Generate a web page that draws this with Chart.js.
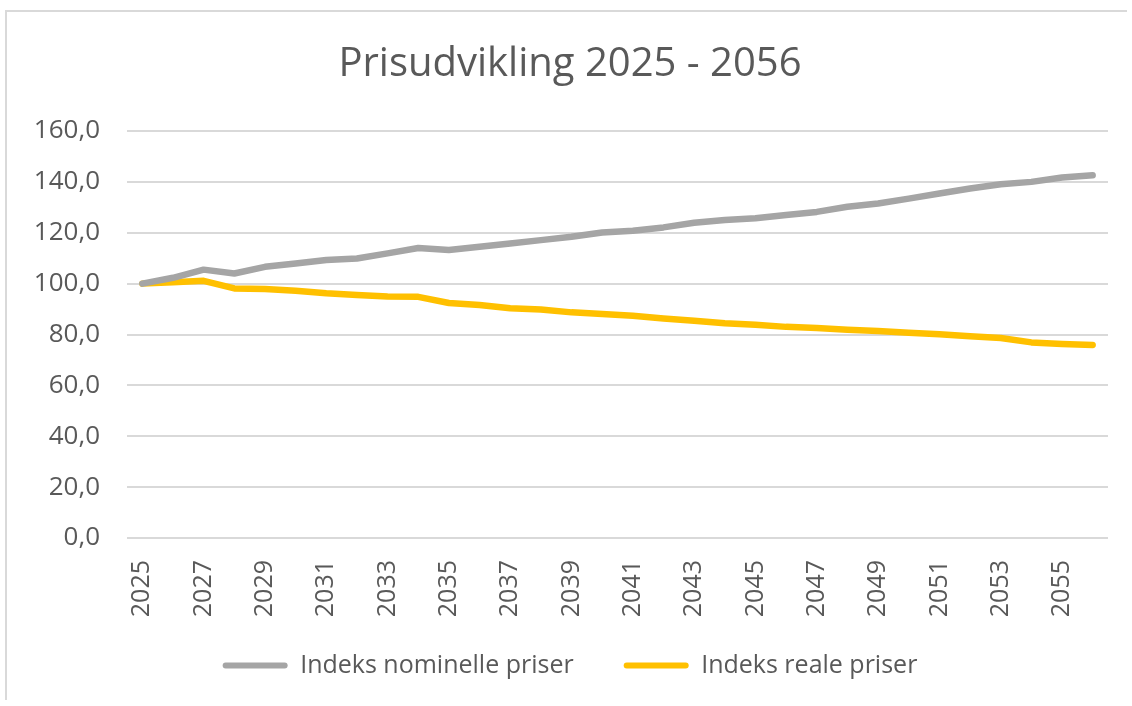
<!DOCTYPE html>
<html>
<head>
<meta charset="utf-8">
<script src="https://cdn.jsdelivr.net/npm/chart.js@4.4.1/dist/chart.umd.min.js"></script>
<style>
    body { margin: 0; background: #fff; }
    #frame {
        position: absolute; left: 5px; top: 10px;
        width: 1122px; height: 690px;
        border: 2px solid #d9d9d9; border-right: none; border-bottom: none;
        box-sizing: border-box;
    }
    #chart { position: absolute; left: 0; top: 0; }
</style>
</head>
<body>
<div id="frame"></div>
<canvas id="chart" width="1132" height="706"></canvas>
<script>
const years = [2025, 2026, 2027, 2028, 2029, 2030, 2031, 2032, 2033, 2034, 2035, 2036, 2037, 2038, 2039, 2040,
    2041, 2042, 2043, 2044, 2045, 2046, 2047, 2048, 2049, 2050, 2051, 2052, 2053, 2054, 2055, 2056];

const nominal = [100.0, 102.3, 105.5, 104.0, 106.6, 107.9, 109.3, 109.9, 111.9, 114.0, 113.2, 114.5, 115.8, 117.1, 118.4, 120.1,
    120.8, 122.1, 123.9, 125.0, 125.7, 127.0, 128.2, 130.2, 131.5, 133.4, 135.4, 137.4, 139.1, 140.0, 141.7, 142.6];

const real = [100.0, 100.5, 101.1, 98.1, 97.9, 97.2, 96.2, 95.5, 94.9, 94.8, 92.4, 91.6, 90.3, 89.8, 88.7, 88.1,
    87.4, 86.3, 85.4, 84.4, 83.8, 83.0, 82.6, 81.9, 81.4, 80.7, 80.1, 79.3, 78.6, 76.9, 76.3, 75.9];

const seriesNames = ['Indeks nominelle priser', 'Indeks reale priser'];
const yTicks = [0, 20, 40, 60, 80, 100, 120, 140, 160];

const textColor = '#595959';
const fontFamily = "'Open Sans', sans-serif";

// legend padding is big to space the two items apart; pull it back up a bit
const legendNudge = {
    id: 'legendNudge',
    afterLayout(chart) {
        chart.legend.top -= 15;
        chart.legend.bottom -= 15;
    }
};

const ctx = document.getElementById('chart').getContext('2d');
const myChart = new Chart(ctx, {
    type: 'line',
    data: {
        labels: years,
        datasets: [{
            label: seriesNames[0],
            data: nominal,
            borderColor: '#a5a5a5',
            backgroundColor: '#a5a5a5',
            borderWidth: 6.5,
            borderCapStyle: 'round',
            borderJoinStyle: 'round',
            pointRadius: 0,
            tension: 0
        }, {
            label: seriesNames[1],
            data: real,
            borderColor: '#ffc000',
            backgroundColor: '#ffc000',
            borderWidth: 6.5,
            borderCapStyle: 'round',
            borderJoinStyle: 'round',
            pointRadius: 0,
            tension: 0
        }]
    },
    options: {
        responsive: false,
        animation: false,
        layout: {
            padding: { left: 32, right: 24, top: 12, bottom: 3 }
        },
        scales: {
            x: {
                offset: true,
                grid: { display: false },
                border: { display: false },
                afterFit: function (axis) {
                    axis.height = 80;
                    axis.paddingLeft = 0;
                    axis.paddingRight = 0;
                },
                ticks: {
                    autoSkip: false,
                    minRotation: 90,
                    maxRotation: 90,
                    padding: 14,
                    color: textColor,
                    font: { family: fontFamily, size: 25 },
                    callback: function (value, index) {
                        return index % 2 === 0 ? years[index] : '';
                    }
                }
            },
            y: {
                min: yTicks[0],
                max: yTicks[yTicks.length - 1],
                border: { display: false },
                grid: {
                    color: '#d9d9d9',
                    lineWidth: 2,
                    drawTicks: false
                },
                afterBuildTicks: function (axis) {
                    axis.ticks = yTicks.map(v => ({ value: v }));
                },
                afterFit: function (axis) {
                    axis.width = 95;
                },
                ticks: {
                    padding: 27,
                    color: textColor,
                    font: { family: fontFamily, size: 26 },
                    callback: function (value) {
                        return value.toFixed(1).replace('.', ',');
                    }
                }
            }
        },
        plugins: {
            title: {
                display: true,
                text: 'Prisudvikling 2025 - 2056',
                color: textColor,
                font: { family: fontFamily, size: 40, weight: 'normal' },
                padding: { top: 29, bottom: 42 }
            },
            legend: {
                position: 'bottom',
                labels: {
                    boxWidth: 65,
                    boxHeight: 6,
                    useBorderRadius: true,
                    borderRadius: 3,
                    padding: 50,
                    color: textColor,
                    font: { family: fontFamily, size: 25 },
                    generateLabels: function (chart) {
                        const items = Chart.defaults.plugins.legend.labels.generateLabels(chart);
                        items.forEach(item => {
                            item.lineWidth = 0;
                            item.strokeStyle = 'transparent';
                        });
                        return items;
                    }
                }
            },
            tooltip: { enabled: false }
        }
    },
    plugins: [legendNudge]
});
</script>
</body>
</html>
